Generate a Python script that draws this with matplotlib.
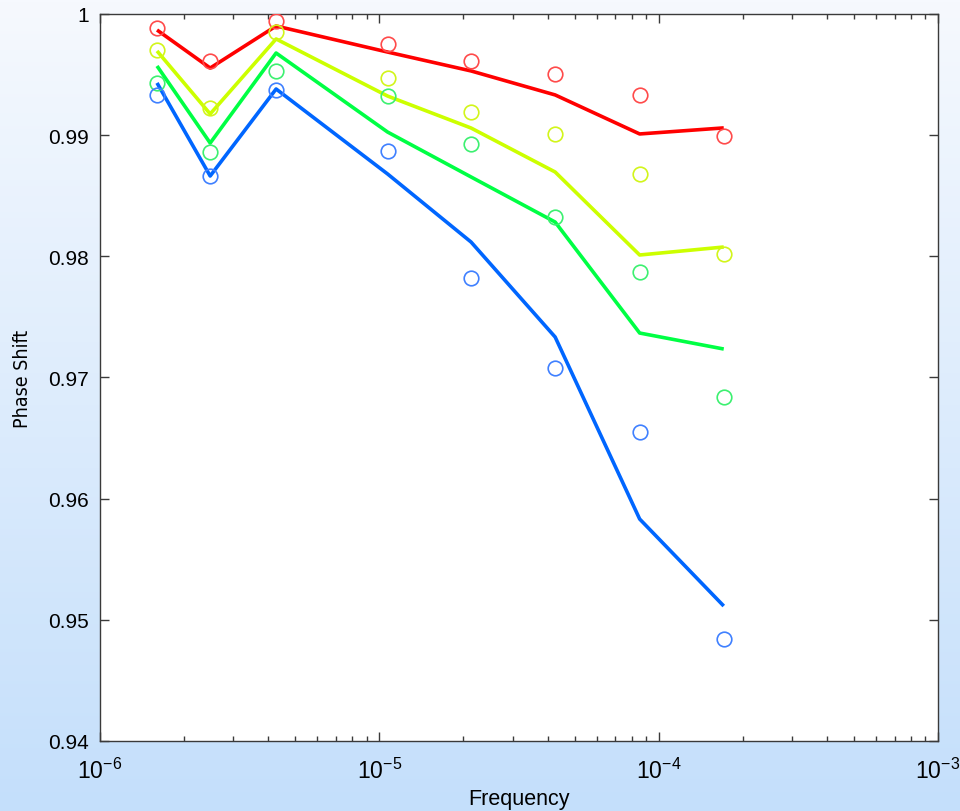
import numpy as np
import matplotlib
matplotlib.use("Agg")
import matplotlib.pyplot as plt
from matplotlib.colors import LinearSegmentedColormap
from matplotlib.ticker import LogLocator, LogFormatterSciNotation, MultipleLocator

plt.rcParams["mathtext.fontset"] = "custom"
plt.rcParams["mathtext.rm"] = "Liberation Sans"
plt.rcParams["mathtext.it"] = "Liberation Sans:italic"
plt.rcParams["mathtext.bf"] = "Liberation Sans:bold"
plt.rcParams["font.family"] = ["Liberation Sans", "DejaVu Sans"]

# Sampling frequencies
freq = [1.6e-6, 2.48e-6, 4.27e-6, 1.07e-5, 2.13e-5, 4.26e-5, 8.55e-5, 1.71e-4]

# Measured phase shift (circles)
meas_red = [0.99884, 0.99612, 0.99942, 0.99752, 0.99612, 0.99505, 0.99332, 0.98993]
meas_yellow = [0.99703, 0.99224, 0.99851, 0.99472, 0.99191, 0.99010, 0.98680, 0.98022]
meas_green = [0.99431, 0.98861, 0.99530, 0.99323, 0.98927, 0.98325, 0.97871, 0.96839]
meas_blue = [0.99332, 0.98663, 0.99373, 0.98869, 0.97821, 0.97079, 0.96550, 0.94842]

# Model phase shift (lines)
model_red = [0.99868, 0.99554, 0.99901, 0.99686, 0.99530, 0.99332, 0.99010, 0.99060]
model_yellow = [0.99695, 0.99175, 0.99794, 0.99323, 0.99059, 0.98696, 0.98011, 0.98077]
model_green = [0.99571, 0.98935, 0.99678, 0.99026, 0.98655, 0.98283, 0.97367, 0.97235]
model_blue = [0.99431, 0.98663, 0.99381, 0.98680, 0.98118, 0.97334, 0.95832, 0.95114]

line_colors = ["#ff0000", "#ccff00", "#00ff44", "#0066ff"]
marker_colors = ["#ff4a4a", "#d2f51a", "#3cf070", "#3f80ff"]

W, H = 960, 812
fig = plt.figure(figsize=(W / 100, H / 100), dpi=100)

# Soft vertical gradient behind everything
bg = fig.add_axes([0, 0, 1, 1], zorder=-10)
grad = np.linspace(0, 1, 256).reshape(-1, 1)
cmap = LinearSegmentedColormap.from_list("bg", ["#f6f9fe", "#c4dffb"])
bg.imshow(grad, aspect="auto", cmap=cmap, extent=[0, 1, 0, 1], origin="upper")
bg.set_axis_off()

ax = fig.add_axes([100 / W, 70 / H, 838 / W, 727 / H])
ax.set_facecolor("white")

models = [model_red, model_yellow, model_green, model_blue]
meas = [meas_red, meas_yellow, meas_green, meas_blue]
for m, c in zip(models, line_colors):
    ax.plot(freq, m, color=c, lw=2.6, solid_capstyle="butt", zorder=3)
for d, c in zip(meas, marker_colors):
    ax.plot(freq, d, linestyle="none", marker="o", markersize=10.5,
            markerfacecolor="none", markeredgecolor=c, markeredgewidth=1.2, zorder=4)

ax.set_xscale("log")
ax.set_xlim(1e-6, 1e-3)
ax.set_ylim(0.94, 1.0)

ax.xaxis.set_major_locator(LogLocator(base=10, numticks=10))
ax.xaxis.set_minor_locator(LogLocator(base=10, subs=np.arange(2, 10), numticks=10))
ax.xaxis.set_major_formatter(LogFormatterSciNotation())
ax.yaxis.set_major_locator(MultipleLocator(0.01))
ax.yaxis.set_major_formatter(plt.FuncFormatter(
    lambda v, p: "1" if abs(v - 1) < 1e-9 else f"{v:.2f}"))

for s in ax.spines.values():
    s.set_color("#3a3a3a")
    s.set_linewidth(1.0)

ax.tick_params(axis="both", which="both", direction="in", top=True, right=True,
               color="#3a3a3a", width=1.0)
ax.tick_params(axis="y", which="major", length=6.5, labelsize=15, pad=8)
ax.tick_params(axis="x", which="major", length=6.5, labelsize=16.5, pad=12)
ax.tick_params(axis="x", which="minor", length=3.3)

ax.set_xlabel("Frequency", fontsize=15.5)
ax.xaxis.set_label_coords(0.5, -0.064)
ax.set_ylabel("Phase Shift", fontsize=14, family="DejaVu Sans",
              fontstretch="condensed")
ax.yaxis.set_label_coords(-0.081, 0.5)

fig.savefig("out.png", dpi=100)
